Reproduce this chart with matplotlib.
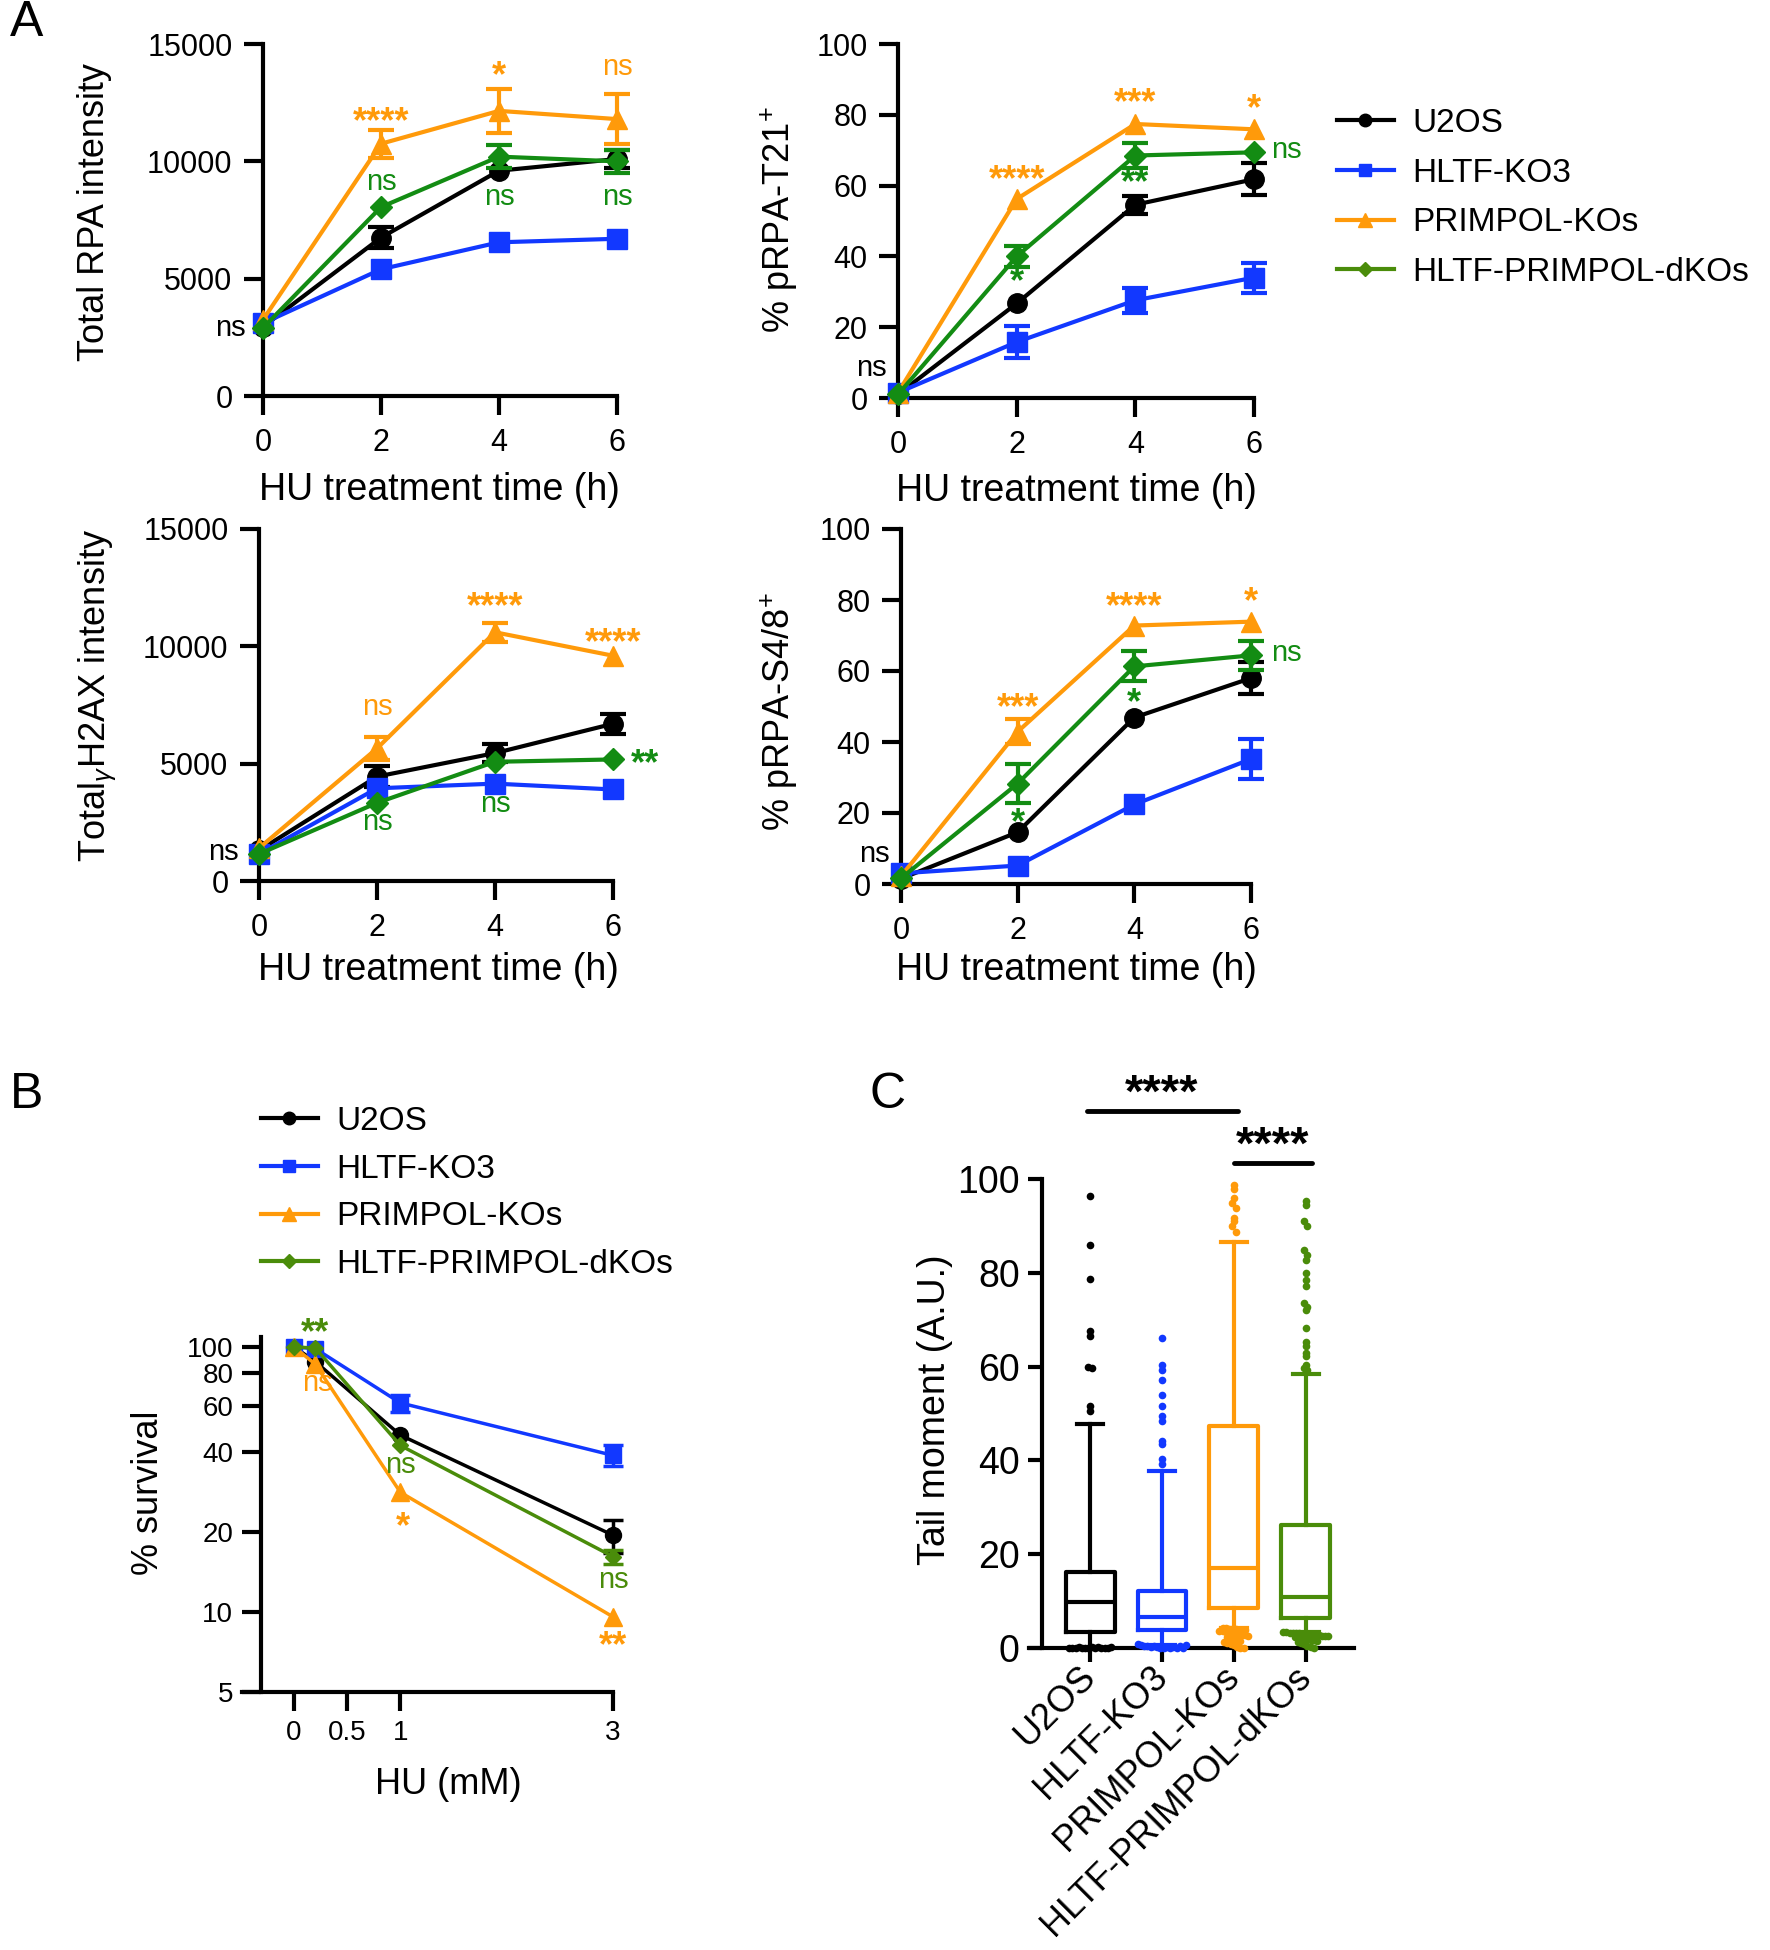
import matplotlib
matplotlib.use('Agg')
import matplotlib.pyplot as plt
from matplotlib.lines import Line2D
import numpy as np

plt.rcParams['font.family'] = ['Liberation Sans', 'DejaVu Sans']
plt.rcParams['axes.linewidth'] = 3
plt.rcParams['mathtext.fontset'] = 'custom'
plt.rcParams['mathtext.rm'] = 'Liberation Sans'
plt.rcParams['mathtext.it'] = 'Liberation Sans:italic'

W, H = 1770, 1950

# ---- data ----
cell_lines = ['U2OS', 'HLTF-KO3', 'PRIMPOL-KOs', 'HLTF-PRIMPOL-dKOs']
hours = [0, 2, 4, 6]

# rows follow cell_lines; an error of 0 means the bar is hidden behind the marker
rpa_mean = [[2950, 6750, 9600, 10100],
            [3100, 5400, 6550, 6700],
            [3250, 10750, 12150, 11800],
            [2900, 8050, 10200, 10000]]
rpa_err = [[0, 450, 0, 400],
           [0, 0, 0, 0],
           [0, 600, 950, 1050],
           [0, 0, 500, 500]]

t21_mean = [[1.0, 26.7, 54.6, 61.8],
            [1.5, 15.8, 27.6, 34.0],
            [1.5, 56.2, 77.4, 75.9],
            [1.0, 40.0, 68.5, 69.4]]
t21_err = [[0, 0, 2.5, 4.5],
           [0, 4.5, 3.5, 4.2],
           [0, 0, 0, 0],
           [0, 3.0, 3.5, 0]]

h2ax_mean = [[1300, 4450, 5450, 6700],
             [1150, 3950, 4150, 3900],
             [1400, 5650, 10600, 9600],
             [1150, 3330, 5080, 5180]]
h2ax_err = [[0, 450, 400, 420],
            [0, 0, 0, 0],
            [0, 500, 400, 0],
            [0, 0, 0, 0]]

s48_mean = [[1.5, 14.6, 46.9, 58.0],
            [3.0, 5.2, 22.4, 35.2],
            [2.2, 42.9, 72.8, 73.9],
            [1.6, 28.3, 61.3, 64.4]]
s48_err = [[0, 0, 0, 4.5],
           [0, 0, 0, 5.6],
           [0, 3.5, 0, 0],
           [0, 5.5, 4.2, 4.0]]

# significance labels: (text, x, y, colour key)
rpa_sig = [('ns', -0.55, 2900, 'k'), ('****', 2, 11650, 'o'), ('ns', 2, 9100, 'g'),
           ('*', 4, 13600, 'o'), ('ns', 4, 8500, 'g'), ('ns', 6, 14000, 'o'),
           ('ns', 6, 8500, 'g')]
t21_sig = [('ns', -0.45, 8.5, 'k'), ('****', 2, 61.5, 'o'), ('*', 2, 32.5, 'g'),
           ('***', 4, 83.2, 'o'), ('**', 4, 60.5, 'g'), ('*', 6, 81.5, 'o'),
           ('ns', 6.55, 70.0, 'g')]
h2ax_sig = [('ns', -0.6, 1250, 'k'), ('ns', 2, 7400, 'o'), ('ns', 2, 2500, 'g'),
            ('****', 4, 11650, 'o'), ('ns', 4, 3300, 'g'), ('****', 6, 10100, 'o'),
            ('**', 6.55, 4950, 'g')]
s48_sig = [('ns', -0.45, 8.5, 'k'), ('***', 2, 49.3, 'o'), ('*', 2, 17.0, 'g'),
           ('****', 4, 77.8, 'o'), ('*', 4, 50.8, 'g'), ('*', 6, 79.3, 'o'),
           ('ns', 6.6, 65.0, 'g')]

hu_dose = [0, 0.2, 1, 3]
survival_mean = [[100, 88.0, 46.5, 19.5],
                 [100, 98.5, 61.5, 39.0],
                 [100, 86.0, 28.3, 9.6],
                 [100, 99.0, 42.5, 16.2]]
survival_err = [[0, 0, 0, 2.8],
                [0, 0, 4.5, 3.5],
                [0, 0, 0, 0],
                [0, 0, 0, 1.0]]
survival_sig = [('**', 0.2, 112, 'g'), ('ns', 0.22, 73, 'o'), ('ns', 1, 36, 'g'),
                ('*', 1.02, 20.8, 'o'), ('ns', 3, 13.2, 'g'), ('**', 3, 7.4, 'o')]

# comet tail moment box stats (median, q1, q3, lower whisker, upper whisker)
tail_med = [9.8, 6.7, 17.0, 10.8]
tail_q1 = [3.5, 3.9, 8.5, 6.4]
tail_q3 = [16.3, 12.1, 47.4, 26.3]
tail_whislo = [0.0, 0.6, 4.3, 3.5]
tail_whishi = [47.8, 37.8, 86.6, 58.4]
tail_points = [
    [96.4, 86.0, 78.7, 67.5, 66.6, 59.9, 59.7, 51.7, 50.5,
     0.0, 0.1, 0.0, 0.2, 0.1, 0.0, 0.1, 0.3, 0.0, 0.2, 0.1, 0.0, 0.1, 0.2],
    [66.0, 60.4, 59.3, 57.2, 54.0, 51.5, 49.4, 48.3, 44.1, 43.4, 40.2, 39.3,
     0.8, 0.6, 0.5, 0.4, 0.3, 0.5, 0.2, 0.1, 0.0, 0.3, 0.1, 0.2, 0.0, 0.4, 0.1, 0.6],
    [98.8, 97.9, 95.9, 94.9, 93.8, 91.7, 91.0, 89.9, 88.8,
     4.3, 4.2, 4.1, 4.0, 4.0, 3.9, 3.8, 3.8, 3.7, 3.6, 3.5, 3.4, 3.3, 3.1, 3.0,
     2.8, 2.7, 2.5, 2.3, 2.1, 1.9, 1.7, 1.5, 1.2, 1.0, 0.8, 0.6, 0.3, 0.1, 0.0],
    [95.4, 94.5, 91.0, 90.0, 84.9, 83.9, 82.8, 80.0, 78.5, 77.1, 73.6, 72.8,
     72.1, 68.2, 65.2, 64.3, 62.8, 62.2, 60.4, 59.7, 59.3,
     3.5, 3.4, 3.3, 3.3, 3.2, 3.1, 3.0, 3.0, 2.9, 2.8, 2.8, 2.7, 2.6, 2.5, 2.5,
     2.4, 2.3, 2.2, 2.1, 2.0, 1.8, 1.6, 1.4, 1.2, 1.0, 0.8, 0.5, 0.2, 0.0],
]

# ---- style ----
col_a = ['#000000', '#1238ff', '#ff9a0a', '#138c13']
col_b = ['#000000', '#1238ff', '#ff9a0a', '#4a8c0a']
sig_col_a = {'k': '#000000', 'o': '#ff9a0a', 'g': '#138c13'}
sig_col_b = {'k': '#000000', 'o': '#ff9a0a', 'g': '#4a8c0a'}
markers = ['o', 's', '^', 'D']
msizes_a = [14, 14, 15, 11]
msizes_b = [11.5, 11, 12.5, 8.5]

fig = plt.figure(figsize=(W / 100, H / 100), dpi=100)


def px_axes(l, t, r, b):
    return fig.add_axes([l / W, 1 - b / H, (r - l) / W, (b - t) / H])


def style_axes(ax, fs, ticklen, xpad, ypad):
    for s in ['top', 'right']:
        ax.spines[s].set_visible(False)
    ax.tick_params(direction='out', length=ticklen, width=3, labelsize=fs)
    ax.tick_params(axis='x', pad=xpad)
    ax.tick_params(axis='y', pad=ypad)


def hidden_zero(err):
    e = np.asarray(err, dtype=float)
    e[e == 0] = np.nan
    return e


def sig_text(ax, sig, cols):
    for txt, x, y, c in sig:
        star = '*' in txt
        ax.text(x, y, txt, color=cols[c], ha='center', va='center',
                fontsize=26 if star else 21, fontweight='bold' if star else 'normal',
                clip_on=False, zorder=10)


def time_panel(box, means, errs, ymax, yticks, sig, ylabel, ylab_pos, xlab_pos):
    ax = px_axes(*box)
    for i in range(4):
        ax.plot(hours, means[i], color=col_a[i], marker=markers[i], ms=msizes_a[i],
                lw=3, clip_on=False, zorder=3 + i)
        ax.errorbar(hours, means[i], yerr=hidden_zero(errs[i]), fmt='none',
                    ecolor=col_a[i], elinewidth=3, capsize=9.5, capthick=3,
                    clip_on=False, zorder=3 + i)
    ax.set_xlim(0, 6)
    ax.set_ylim(0, ymax)
    ax.set_xticks(hours)
    ax.set_yticks(yticks)
    style_axes(ax, 22, 14, 9, 8)
    sig_text(ax, sig, sig_col_a)
    fig.text(ylab_pos[0] / W, 1 - ylab_pos[1] / H, ylabel, rotation=90,
             ha='center', va='center', fontsize=26)
    fig.text(xlab_pos[0] / W, 1 - xlab_pos[1] / H, 'HU treatment time (h)',
             ha='center', va='center', fontsize=27)
    return ax


time_panel((263, 44, 617, 396), rpa_mean, rpa_err, 15000, [0, 5000, 10000, 15000],
           rpa_sig, 'Total RPA intensity', (95, 212), (439, 490))
time_panel((898, 44, 1254, 398), t21_mean, t21_err, 100, range(0, 101, 20),
           t21_sig, '% pRPA-T21$^{+}$', (779, 220), (1076, 491))
time_panel((259, 529, 613, 881), h2ax_mean, h2ax_err, 15000, [0, 5000, 10000, 15000],
           h2ax_sig, r'Total$_{\gamma}$H2AX intensity', (98, 695), (438, 970))
time_panel((901, 529, 1251, 884), s48_mean, s48_err, 100, range(0, 101, 20),
           s48_sig, '% pRPA-S4/8$^{+}$', (779, 712), (1076, 970))


# legends
def legend_handles(cols, ms):
    return [Line2D([], [], color=cols[i], marker=markers[i], ms=ms[i], lw=3)
            for i in range(4)]


for anchor, spacing in [((1337, 108), 0.56), ((261, 1106), 0.5)]:
    fig.legend(legend_handles(col_b, [9, 9, 10, 7.5]), cell_lines,
               loc='upper left', bbox_to_anchor=(anchor[0] / W, 1 - anchor[1] / H),
               frameon=False, fontsize=24, handlelength=1.7, handletextpad=0.55,
               labelspacing=spacing, borderpad=0, borderaxespad=0)

# ---- panel B: survival ----
axb = px_axes(242, 1337, 613, 1692)
for i in range(4):
    axb.plot(hu_dose, survival_mean[i], color=col_b[i], marker=markers[i],
             ms=msizes_b[i], lw=2.5, clip_on=False, zorder=3 + i)
    axb.errorbar(hu_dose, survival_mean[i], yerr=hidden_zero(survival_err[i]),
                 fmt='none', ecolor=col_b[i], elinewidth=2.5, capsize=7, capthick=2.5,
                 clip_on=False, zorder=3 + i)
axb.set_yscale('log')
axb.set_ylim(5, 109)
axb.set_xlim(-0.49, 3)
axb.set_yticks([5, 10, 20, 40, 60, 80, 100])
axb.set_yticklabels(['5', '10', '20', '40', '60', '80', '100'])
axb.yaxis.set_minor_locator(matplotlib.ticker.NullLocator())
axb.set_xticks([0, 0.5, 1, 3])
axb.set_xticklabels(['0', '0.5', '1', '3'])
axb.spines['left'].set_position(('data', -0.31))
style_axes(axb, 20, 14, 6, 6)
sig_text(axb, survival_sig, sig_col_b)
fig.text(149 / W, 1 - 1493 / H, '% survival', rotation=90, ha='center', va='center',
         fontsize=26)
fig.text(448 / W, 1 - 1785 / H, 'HU (mM)', ha='center', va='center', fontsize=26)

# ---- panel C: tail moment ----
axc = px_axes(1029, 1179, 1354, 1648)
pos = [1, 2, 3, 4]
stats = [dict(med=tail_med[i], q1=tail_q1[i], q3=tail_q3[i], whislo=tail_whislo[i],
              whishi=tail_whishi[i], fliers=[]) for i in range(4)]
bp = axc.bxp(stats, positions=pos, widths=0.68, showfliers=False, capwidths=0.37)
for i in range(4):
    c = col_b[i]
    bp['boxes'][i].set(color=c, lw=3)
    bp['medians'][i].set(color=c, lw=3)
    for art in bp['whiskers'][2 * i:2 * i + 2] + bp['caps'][2 * i:2 * i + 2]:
        art.set(color=c, lw=3)


def swarm_offsets(vals, binsize=1.25, step=0.045):
    vals = np.asarray(vals, dtype=float)
    offs = np.zeros(len(vals))
    bins = np.floor(vals / binsize)
    for b in np.unique(bins):
        idx = np.where(bins == b)[0]
        n = len(idx)
        offs[idx] = (np.arange(n) - (n - 1) / 2) * step
    return offs


for i in range(4):
    vals = np.asarray(tail_points[i])
    axc.plot(pos[i] + swarm_offsets(vals), vals, 'o', color=col_b[i], ms=5.5,
             mec='none', clip_on=False, zorder=4)

axc.set_xlim(0.15, 4.67)
axc.set_ylim(0, 100)
axc.set_yticks(range(0, 101, 20))
axc.set_xticks(pos)
axc.set_xticklabels(cell_lines, rotation=45, ha='right', va='center',
                    rotation_mode='anchor')
axc.spines['left'].set_position(('data', 0.33))
style_axes(axc, 27, 10, 7, 6)
axc.tick_params(axis='x', labelsize=26)

# significance bars
axc.plot([0.95, 3.05], [114.5, 114.5], color='k', lw=3.5, clip_on=False,
         solid_capstyle='round')
axc.text(2.0, 113.2, '****', ha='center', va='bottom', fontsize=34, fontweight='bold',
         clip_on=False)
axc.plot([3.0, 4.08], [103.4, 103.4], color='k', lw=3.5, clip_on=False,
         solid_capstyle='round')
axc.text(3.54, 102.1, '****', ha='center', va='bottom', fontsize=34, fontweight='bold',
         clip_on=False)
fig.text(935 / W, 1 - 1410 / H, 'Tail moment (A.U.)', rotation=90, ha='center',
         va='center', fontsize=27)

# panel letters
fig.text(10 / W, 1 - 0 / H, 'A', ha='left', va='top', fontsize=36)
fig.text(10 / W, 1 - 1072 / H, 'B', ha='left', va='top', fontsize=36)
fig.text(870 / W, 1 - 1072 / H, 'C', ha='left', va='top', fontsize=36)

fig.savefig('out.png', dpi=100)
